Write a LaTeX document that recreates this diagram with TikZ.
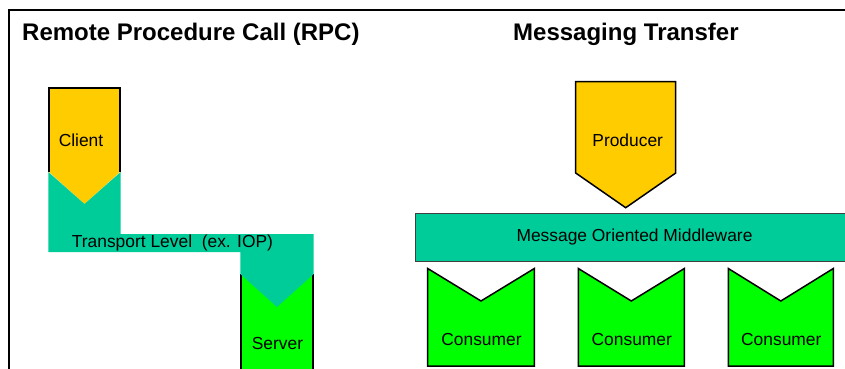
\documentclass[tikz,border=0pt]{standalone}
\usepackage{fontspec}
\setmainfont{Liberation Sans}
\definecolor{cyel}{RGB}{255,204,0}
\definecolor{cteal}{RGB}{0,204,153}
\definecolor{cgreen}{RGB}{0,255,0}
\begin{document}
\begin{tikzpicture}[x=1pt,y=-1pt,
  lbl/.style={inner sep=0pt, anchor=base, font=\fontsize{17.4}{20}\selectfont},
  ttl/.style={inner sep=0pt, anchor=base west, font=\fontsize{24}{28}\selectfont\bfseries},
  outl/.style={draw=black, line width=1.5pt, line join=miter}]
\useasboundingbox (0,0) rectangle (845,368);
\clip (0,0) rectangle (845,368);
% frame
\draw[line width=2.2pt] (9,380) -- (9,10) -- (860,10);
% titles
\node[ttl] (rpc) at (22,40) {Remote Procedure Call (RPC)};
\node[ttl] (msg) at (513,40) {Messaging Transfer};
% client
\fill[cyel] (49,88) -- (120,88) -- (120,172) -- (84.5,204) -- (49,172) -- cycle;
\draw[outl] (49,172) -- (49,88) -- (120,88) -- (120,172);
% server
\fill[cgreen] (241,270) rectangle (313,375);
\draw[outl] (241,274) -- (241,375);
\draw[outl] (313,274) -- (313,375);
% transport
\fill[cteal] (48.3,172) -- (84.5,204) -- (120.7,172) -- (120.7,234) -- (313.7,234) -- (313.7,274) -- (277,307) -- (240.3,274) -- (240.3,252) -- (48.3,252) -- cycle;
\node[lbl] (client) at (81,146.7) {Client};
\node[lbl] (server) at (277.5,349) {Server};
\node[lbl, anchor=base west] (transport) at (71.7,247.5) {Transport Level\ \ (ex. IOP)};
% producer
\draw[outl, fill=cyel] (575.7,81.7) -- (675.7,81.7) -- (675.7,173) -- (625.7,207.7) -- (575.7,173) -- cycle;
\node[lbl] (producer) at (627.7,146) {Producer};
% middleware
\draw[draw=black!75, line width=1pt, fill=cteal] (415.7,213.3) rectangle (870,261);
\node[lbl] (mom) at (634.5,241) {Message Oriented Middleware};
% consumers
\foreach \l/\r/\n in {427.7/534.3/c1, 578.3/684.3/c2, 728.3/833.3/c3}{
  \draw[outl, fill=cgreen] (\l,268.5) -- ({(\l+\r)/2},301) -- (\r,268.5) -- (\r,366) -- (\l,366) -- cycle;
  \node[lbl] (\n) at ({(\l+\r)/2+0.5},345.7) {Consumer};
}
\end{tikzpicture}
\end{document}
